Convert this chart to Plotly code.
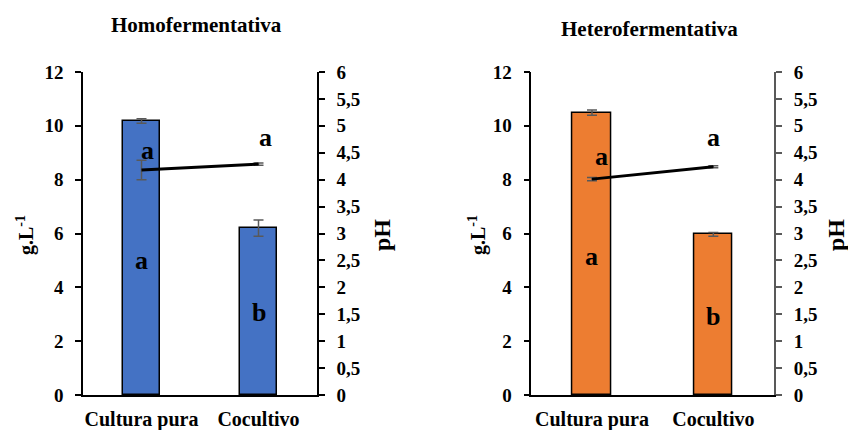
import plotly.graph_objects as go

categories = ["Cultura pura", "Cocultivo"]

# Homofermentativa
homo_conc = [10.18, 6.20]
homo_conc_err = [0.08, 0.30]
homo_ph = [4.18, 4.29]
homo_ph_err = [0.18, 0.02]

# Heterofermentativa
hetero_conc = [10.49, 5.97]
hetero_conc_err = [0.10, 0.07]
hetero_ph = [4.01, 4.24]
hetero_ph_err = [0.03, 0.02]

left_tickvals = [0, 2, 4, 6, 8, 10, 12]
right_tickvals = [0, 0.5, 1, 1.5, 2, 2.5, 3, 3.5, 4, 4.5, 5, 5.5, 6]
right_ticktext = ["0", "0,5", "1", "1,5", "2", "2,5", "3", "3,5", "4", "4,5", "5", "5,5", "6"]

titles = ["Homofermentativa", "Heterofermentativa"]
bar_letters = ["a", "b"]
ph_letters = ["a", "a"]

FONT = "Liberation Serif, DejaVu Serif, serif"
BLUE = "#4472C4"
ORANGE = "#ED7D31"
GREY = "#595959"

fig = go.Figure()

panels = [
    dict(conc=homo_conc, cerr=homo_conc_err, ph=homo_ph, perr=homo_ph_err, color=BLUE,
         xa="x", ya="y", ya2="y2"),
    dict(conc=hetero_conc, cerr=hetero_conc_err, ph=hetero_ph, perr=hetero_ph_err, color=ORANGE,
         xa="x2", ya="y3", ya2="y4"),
]

for p in panels:
    fig.add_trace(go.Bar(
        x=[0, 1], y=p["conc"], width=0.32, marker=dict(color=p["color"], line=dict(color="black", width=1.5)),
        error_y=dict(type="data", array=p["cerr"], color=GREY, thickness=1.5, width=5),
        xaxis=p["xa"], yaxis=p["ya"], showlegend=False,
    ))
    fig.add_trace(go.Scatter(
        x=[0, 1], y=p["ph"], mode="lines", line=dict(color="black", width=3),
        error_y=dict(type="data", array=p["perr"], color=GREY, thickness=1.5, width=5),
        xaxis=p["xa"], yaxis=p["ya2"], showlegend=False,
    ))

W, H = 848, 430
def px(x):
    return x / W
def py(y):
    return 1 - y / H

y_dom = [py(395), py(72)]
tickfont = dict(family=FONT, size=19, color="black", weight="bold")

common_x = dict(range=[-0.5, 1.5], tickvals=[0, 1], ticktext=categories, showline=True, linecolor="black",
                linewidth=1.5, ticks="", tickfont=dict(family=FONT, size=20, color="black", weight="bold"),
                showgrid=False, zeroline=False, ticklabelstandoff=5, automargin=False)
common_yl = dict(range=[0, 12], tickvals=left_tickvals, showline=True, linecolor="black", linewidth=1.5,
                 ticks="outside", ticklen=6, tickwidth=1.5, tickcolor="black", tickfont=tickfont,
                 showgrid=False, zeroline=False, domain=y_dom, ticklabelstandoff=8, automargin=False)
common_yr = dict(side="right", range=[0, 6], tickvals=right_tickvals, ticktext=right_ticktext, showline=True,
                 ticks="outside", ticklen=6, tickwidth=1.5, tickfont=tickfont, showgrid=False,
                 zeroline=False, ticklabelstandoff=8, automargin=False)

fig.update_layout(
    width=W, height=H, margin=dict(l=0, r=0, t=0, b=0, autoexpand=False),
    paper_bgcolor="white", plot_bgcolor="white", bargap=0,
    xaxis=dict(domain=[px(83), px(317)], anchor="y", **common_x),
    xaxis2=dict(domain=[px(531.3), px(774)], anchor="y3", **common_x),
    yaxis=dict(anchor="x", **common_yl),
    yaxis2=dict(anchor="x", overlaying="y", linecolor="black", linewidth=1.5, tickcolor="black", **common_yr),
    yaxis3=dict(anchor="x2", **common_yl),
    yaxis4=dict(anchor="x2", overlaying="y3", linecolor=GREY, linewidth=2, tickcolor=GREY, **common_yr),
)

ann = []
title_font = dict(family=FONT, size=21, color="black", weight="bold")
ann.append(dict(text=titles[0], x=px(196), y=py(25), font=title_font))
ann.append(dict(text=titles[1], x=px(649), y=py(29), font=title_font))
for gx, phx in [(25, 382), (477, 836)]:
    ann.append(dict(text="g.L<sup>-1</sup>", x=px(gx), y=py(235), textangle=-90,
                    font=dict(family=FONT, size=20, color="black", weight="bold")))
    ann.append(dict(text="pH", x=px(phx), y=py(235), textangle=-90,
                    font=dict(family=FONT, size=24, color="black", weight="bold")))
for a in ann:
    a.update(xref="paper", yref="paper", showarrow=False, xanchor="center", yanchor="middle")

letter_font = dict(family=FONT, size=26, color="black", weight="bold")
left_pos_ph = [(0.053, 9.1), (1.064, 9.55)]
left_pos_bar = [(0.0, 5.0), (1.0, 3.05)]
right_pos_ph = [(0.076, 8.86), (1.0, 9.56)]
right_pos_bar = [(0.0, 5.14), (1.0, 2.91)]
for (xa, ya, pph, pbar) in [("x", "y", left_pos_ph, left_pos_bar), ("x2", "y3", right_pos_ph, right_pos_bar)]:
    for i in range(2):
        ann.append(dict(text=ph_letters[i], x=pph[i][0], y=pph[i][1], xref=xa, yref=ya, showarrow=False,
                        xanchor="center", yanchor="middle", font=letter_font))
        ann.append(dict(text=bar_letters[i], x=pbar[i][0], y=pbar[i][1], xref=xa, yref=ya, showarrow=False,
                        xanchor="center", yanchor="middle", font=letter_font))

fig.update_layout(annotations=ann)
fig.write_html("out.html")
